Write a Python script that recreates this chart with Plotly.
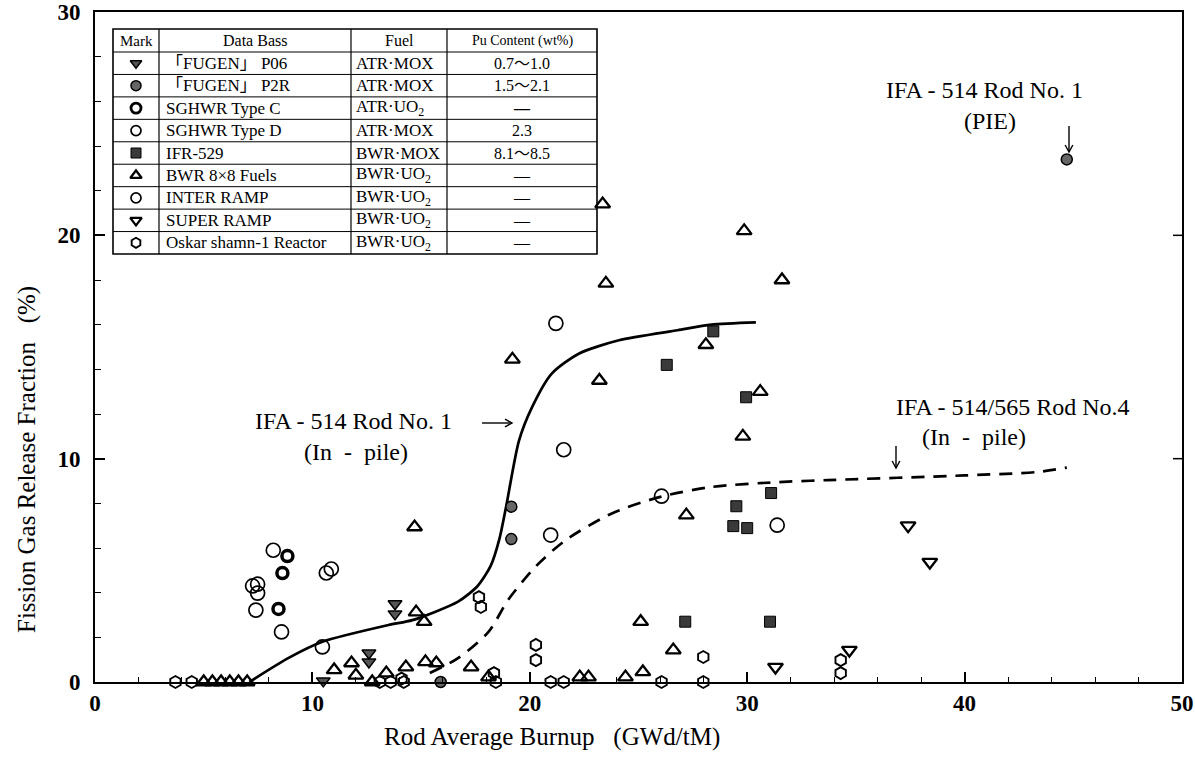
import plotly.graph_objects as go

# ---------------- data ----------------
fugen_p06_x = [10.5, 12.6, 12.6, 13.8, 13.8]
fugen_p06_y = [0.05, 1.3, 0.9, 3.5, 3.05]

fugen_p2r_x = [15.9, 19.15, 19.15, 44.7]
fugen_p2r_y = [0.0, 7.85, 6.4, 23.4]

sghwr_c_x = [8.85, 8.62, 8.44]
sghwr_c_y = [5.64, 4.88, 3.27]

sghwr_d_x = [8.2, 7.25, 7.48, 7.48, 7.4, 8.58, 10.64, 10.87, 10.46]
sghwr_d_y = [5.9, 4.3, 4.38, 3.98, 3.22, 2.24, 4.88, 5.06, 1.57]

ifr529_x = [28.44, 26.3, 29.95, 31.1, 29.5, 29.36, 30.0, 27.15, 31.05]
ifr529_y = [15.7, 14.2, 12.75, 8.46, 7.87, 6.98, 6.89, 2.7, 2.7]

bwr8x8_x = [5.0, 5.4, 5.8, 6.2, 6.6, 7.0, 11.0, 11.8, 12.0, 12.75, 13.4, 14.3,
            14.77, 15.14, 15.2, 15.7, 17.3, 18.1, 22.3, 22.7, 24.4, 25.2, 25.1,
            26.6, 19.2, 23.2, 28.1, 30.6, 29.8, 27.2, 14.7, 23.35, 29.86, 31.6, 23.5]
bwr8x8_y = [0, 0, 0, 0, 0, 0, 0.54, 0.85, 0.3, 0, 0.4, 0.67,
            3.13, 2.7, 0.9, 0.85, 0.67, 0.22, 0.22, 0.22, 0.22, 0.45, 2.7,
            1.43, 14.45, 13.5, 15.1, 13.0, 11.0, 7.47, 6.94, 21.4, 20.2, 18.0, 17.85]

inter_ramp_x = [21.2, 21.56, 20.96, 26.06, 31.38]
inter_ramp_y = [16.06, 10.4, 6.58, 8.32, 7.02]

super_ramp_x = [37.4, 38.4, 34.7, 31.3]
super_ramp_y = [7.0, 5.37, 1.43, 0.67]

oskar_x = [17.66, 17.75, 20.28, 20.28, 20.96, 21.56, 26.06, 27.98, 27.98, 34.3, 34.3,
           13.1, 13.6, 14.1, 14.2, 18.35, 18.44, 3.7, 4.45]
oskar_y = [3.8, 3.36, 1.66, 0.98, 0.0, 0.0, 0.0, 1.12, 0.0, 0.98, 0.4,
           0.0, 0.0, 0.15, 0.0, 0.4, 0.0, 0.0, 0.0]

rod1_x = [7.1, 8.95, 10.46, 13.5, 14.6, 16.7, 17.6, 18.2, 18.6, 18.9, 19.5, 20.1, 21.0,
          22.25, 24.1, 26.8, 28.35, 30.4]
rod1_y = [0.0, 1.1, 1.8, 2.55, 2.77, 3.6, 4.3, 5.2, 6.4, 7.8, 10.8, 12.3, 13.8,
          14.7, 15.3, 15.75, 16.0, 16.1]

rod4_x = [15.4, 16.7, 18.1, 19.0, 20.3, 21.65, 23.8, 26.05, 28.35, 31.4, 33.7, 40.0, 43.3, 44.7]
rod4_y = [0.4, 1.07, 2.24, 3.67, 5.2, 6.35, 7.56, 8.3, 8.73, 8.95, 9.04, 9.25, 9.4, 9.6]

table_marks = ["FUGEN P06", "FUGEN P2R", "SGHWR C", "SGHWR D", "IFR-529",
               "BWR 8x8", "INTER RAMP", "SUPER RAMP", "Oskar"]
table_names = ["「FUGEN」 P06", "「FUGEN」 P2R", "SGHWR Type C", "SGHWR Type D",
               "IFR-529", "BWR 8×8 Fuels", "INTER RAMP", "SUPER RAMP",
               "Oskar shamn-1 Reactor"]
table_fuel = ["ATR·MOX", "ATR·MOX", "ATR·UO<sub>2</sub>", "ATR·MOX", "BWR·MOX",
              "BWR·UO<sub>2</sub>", "BWR·UO<sub>2</sub>", "BWR·UO<sub>2</sub>",
              "BWR·UO<sub>2</sub>"]
table_pu = ["0.7～1.0", "1.5～2.1", "<b>—</b>", "2.3", "8.1～8.5", "—", "—", "—", "—"]

x_ticks = [0, 10, 20, 30, 40, 50]
y_ticks = [0, 10, 20, 30]

# ---------------- layout geometry ----------------
W, H = 1195, 776
ML, MR, MT, MB = 95, 13, 12, 94
XMAX, YMAX = 50, 30
PW, PH = W - ML - MR, H - MT - MB
FONT = "Liberation Serif"


def dx(px):
    return (px - ML) / PW * XMAX


def dy(py):
    return (H - MB - py) / PH * YMAX


def px_(px):
    return (px - ML) / PW


def py_(py):
    return (H - MB - py) / PH


styles = {
    "FUGEN P06": dict(symbol="triangle-down", color="#555555", line=dict(color="black", width=1.5)),
    "FUGEN P2R": dict(symbol="circle", color="#666666", line=dict(color="black", width=1.5)),
    "SGHWR C": dict(symbol="circle", color="white", line=dict(color="black", width=3.5)),
    "SGHWR D": dict(symbol="circle-open", color="black", line=dict(color="black", width=1.7)),
    "IFR-529": dict(symbol="square", color="#3a3a3a", line=dict(color="black", width=1)),
    "BWR 8x8": dict(symbol="triangle-up-open", color="black", line=dict(color="black", width=2.3)),
    "INTER RAMP": dict(symbol="circle-open", color="black", line=dict(color="black", width=1.7)),
    "SUPER RAMP": dict(symbol="triangle-down-open", color="black", line=dict(color="black", width=2.3)),
    "Oskar": dict(symbol="hexagon-open", color="black", line=dict(color="black", width=1.9)),
}
sizes = {"FUGEN P06": 12, "FUGEN P2R": 11, "SGHWR C": 11, "SGHWR D": 14, "IFR-529": 11,
         "BWR 8x8": 13, "INTER RAMP": 14, "SUPER RAMP": 13, "Oskar": 12}

series = [
    ("Oskar", oskar_x, oskar_y),
    ("SGHWR D", sghwr_d_x, sghwr_d_y),
    ("INTER RAMP", inter_ramp_x, inter_ramp_y),
    ("BWR 8x8", bwr8x8_x, bwr8x8_y),
    ("SUPER RAMP", super_ramp_x, super_ramp_y),
    ("IFR-529", ifr529_x, ifr529_y),
    ("SGHWR C", sghwr_c_x, sghwr_c_y),
    ("FUGEN P2R", fugen_p2r_x, fugen_p2r_y),
    ("FUGEN P06", fugen_p06_x, fugen_p06_y),
]

fig = go.Figure()

fig.add_trace(go.Scatter(x=rod1_x, y=rod1_y, mode="lines",
                         line=dict(color="black", width=2.7, shape="spline", smoothing=0.7),
                         showlegend=False, cliponaxis=False))
fig.add_trace(go.Scatter(x=rod4_x, y=rod4_y, mode="lines",
                         line=dict(color="black", width=2.7, shape="spline", smoothing=0.8,
                                   dash="13px,9px"),
                         showlegend=False, cliponaxis=False))

for key, xs, ys in series:
    st = styles[key]
    fig.add_trace(go.Scatter(x=xs, y=ys, mode="markers", name=key,
                             marker=dict(symbol=st["symbol"], size=sizes[key], color=st["color"],
                                         line=st["line"]),
                             showlegend=False, cliponaxis=False))

# ---------------- table (legend) ----------------
T_L, T_R, T_T, T_HB, T_B = 113, 597, 29, 52, 254
C1, C2, C3 = 159, 351, 447
n = len(table_marks)
rh = (T_B - T_HB) / n
shapes = []
shapes.append(dict(type="rect", xref="paper", yref="paper", x0=px_(T_L), x1=px_(T_R),
                   y0=py_(T_B), y1=py_(T_T), line=dict(color="black", width=1.6),
                   fillcolor="white", layer="below"))
for cx in (C1, C2, C3):
    shapes.append(dict(type="line", xref="paper", yref="paper", x0=px_(cx), x1=px_(cx),
                       y0=py_(T_B), y1=py_(T_T), line=dict(color="black", width=1.2)))
shapes.append(dict(type="line", xref="paper", yref="paper", x0=px_(T_L), x1=px_(T_R),
                   y0=py_(T_HB), y1=py_(T_HB), line=dict(color="black", width=1.2)))
for i in range(1, n):
    yy = T_HB + i * rh
    shapes.append(dict(type="line", xref="paper", yref="paper", x0=px_(T_L), x1=px_(T_R),
                       y0=py_(yy), y1=py_(yy), line=dict(color="black", width=1)))

# right-side axis ticks
for v in (10, 20):
    shapes.append(dict(type="line", xref="paper", yref="y", x0=1, x1=1 - 9 / PW, y0=v, y1=v,
                       line=dict(color="black", width=1.5)))


def arrow(x0, y0, x1, y1, head=7):
    """thin line arrow between pixel points, open chevron head at (x1, y1)"""
    out = [dict(type="line", xref="x", yref="y", x0=dx(x0), y0=dy(y0), x1=dx(x1), y1=dy(y1),
                line=dict(color="black", width=1.4))]
    if x0 == x1:
        s = 1 if y1 > y0 else -1
        p = [(x1 - head * 0.55, y1 - s * head), (x1, y1), (x1 + head * 0.55, y1 - s * head)]
    else:
        s = 1 if x1 > x0 else -1
        p = [(x1 - s * head, y1 - head * 0.55), (x1, y1), (x1 - s * head, y1 + head * 0.55)]
    path = "M {} {} L {} {} L {} {}".format(dx(p[0][0]), dy(p[0][1]), dx(p[1][0]), dy(p[1][1]),
                                           dx(p[2][0]), dy(p[2][1]))
    out.append(dict(type="path", xref="x", yref="y", path=path, line=dict(color="black", width=1.4)))
    return out


shapes += arrow(482, 423, 512, 423)
shapes += arrow(896, 446, 896, 468)
shapes += arrow(1069, 126, 1069, 152)

ann = []
hdr_y = py_((T_T + T_HB) / 2)
for txt, x0, x1, fs in [("Mark", T_L, C1, 15), ("Data Bass", C1, C2, 16), ("Fuel", C2, C3, 16),
                        ("Pu Content (wt%)", C3, T_R, 14)]:
    ann.append(dict(x=px_((x0 + x1) / 2), y=hdr_y, xref="paper", yref="paper", text=txt,
                    xanchor="center", yanchor="middle",
                    showarrow=False, font=dict(family=FONT, size=fs, color="black")))

leg_x, leg_y = [], []
leg_sym, leg_col, leg_lc, leg_lw = [], [], [], []
for i in range(n):
    cy = T_HB + (i + 0.5) * rh
    ann.append(dict(x=px_(C1 + 5), y=py_(cy), xref="paper", yref="paper", text=table_names[i],
                    xanchor="left", yanchor="middle", showarrow=False,
                    font=dict(family=FONT + ", Noto Sans CJK JP", size=17, color="black")))
    ann.append(dict(x=px_(C2 + 3), y=py_(cy), xref="paper", yref="paper", text=table_fuel[i],
                    xanchor="left", yanchor="middle", showarrow=False,
                    font=dict(family=FONT, size=17, color="black")))
    ann.append(dict(x=px_((C3 + T_R) / 2), y=py_(cy), xref="paper", yref="paper", text=table_pu[i],
                    xanchor="center", yanchor="middle", showarrow=False,
                    font=dict(family=FONT + ", Noto Sans CJK JP", size=16, color="black")))
    st = styles[table_marks[i]]
    leg_x.append(dx((T_L + C1) / 2))
    leg_y.append(dy(cy))
    leg_sym.append(st["symbol"])
    leg_col.append(st["color"])
    leg_lc.append(st["line"]["color"])
    leg_lw.append(min(st["line"]["width"], 2.8))

fig.add_trace(go.Scatter(x=leg_x, y=leg_y, mode="markers", showlegend=False, cliponaxis=False,
                         marker=dict(symbol=leg_sym, size=10, color=leg_col,
                                     line=dict(color=leg_lc, width=leg_lw))))

# ---------------- annotations ----------------
af = dict(family=FONT, size=24, color="black")


def note(px, py, text, font=af, angle=0):
    return dict(x=px_(px), y=py_(py), xref="paper", yref="paper", text=text, textangle=angle,
                xanchor="center", yanchor="middle", showarrow=False, font=font)


ann += [
    note(353, 421, "IFA - 514 Rod No. 1"),
    note(356, 452, "(In  -  pile)"),
    note(1013, 407, "IFA - 514/565 Rod No.4"),
    note(974, 437, "(In  -  pile)"),
    note(984, 90, "IFA - 514 Rod No. 1"),
    note(990, 121, "(PIE)"),
    note(552, 737, "Rod Average Burnup   (GWd/tM)", dict(family=FONT, size=25, color="black")),
    note(27, 460, "Fission Gas Release Fraction   (%)", dict(family=FONT, size=25, color="black"), -90),
]

tickfont = dict(family=FONT, size=23, color="black")
fig.update_layout(
    width=W, height=H, margin=dict(l=ML, r=MR, t=MT, b=MB, autoexpand=False),
    paper_bgcolor="white", plot_bgcolor="white",
    shapes=shapes, annotations=ann, showlegend=False,
    xaxis=dict(range=[0, XMAX], showgrid=False, zeroline=False, showline=True, mirror=True,
               automargin=False, ticklabeloverflow="allow",
               linecolor="black", linewidth=1.6, ticks="inside", ticklen=10, tickwidth=1.5,
               tickcolor="black", tickvals=x_ticks, ticktext=[f"<b>{v}</b>" for v in x_ticks],
               tickfont=tickfont,
               minor=dict(dtick=2, ticks="inside", ticklen=5, tickwidth=1.2, tickcolor="black")),
    yaxis=dict(range=[0, YMAX], showgrid=False, zeroline=False, showline=True, mirror=True,
               automargin=False, ticklabeloverflow="allow",
               linecolor="black", linewidth=2, ticks="inside", ticklen=10, tickwidth=1.5,
               tickcolor="black", tickvals=y_ticks, ticktext=[f"<b>{v}</b>" for v in y_ticks],
               tickfont=tickfont, ticklabelstandoff=8,
               minor=dict(dtick=2, ticks="inside", ticklen=6, tickwidth=1.2, tickcolor="black")),
)

fig.write_html("out.html")
